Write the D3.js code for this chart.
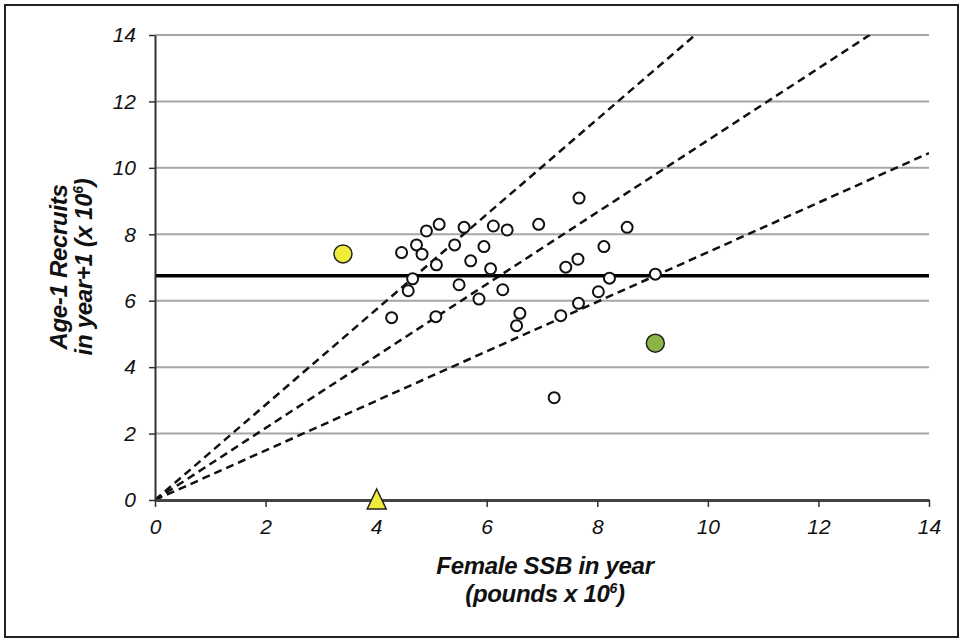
<!DOCTYPE html>
<html><head><meta charset="utf-8">
<script src="https://cdn.jsdelivr.net/npm/d3@7"></script>
<style>body{margin:0;background:#fff}svg{display:block}text{font-family:"Liberation Sans",Arial,sans-serif}</style>
</head><body>
<svg id="c" width="963" height="641"></svg>
<script>
const xTicks = [0,2,4,6,8,10,12,14];
const yTicks = [0,2,4,6,8,10,12,14];
const ssb = [7.67,5.14,4.91,5.59,6.12,6.37,6.94,8.54,4.73,4.46,4.83,5.42,5.95,8.12,5.09,5.71,7.65,7.43,6.07,4.66,8.22,9.05,4.58,5.50,6.29,5.86,8.02,7.66,4.28,5.08,6.60,6.54,7.34,7.22];
const recruits = [9.09,8.30,8.10,8.21,8.25,8.13,8.30,8.21,7.68,7.45,7.40,7.68,7.63,7.63,7.08,7.20,7.25,7.01,6.96,6.66,6.68,6.80,6.30,6.48,6.33,6.05,6.27,5.92,5.49,5.52,5.62,5.25,5.55,3.08];
const yellowPoint = [3.40, 7.41];
const greenPoint = [9.05, 4.72];
const trianglePoint = [4.01, 0];
const meanRecruits = 6.75;
const slopes = [1.433, 1.083, 0.746];

const svg = d3.select("#c");
const x = d3.scaleLinear().domain([0,14]).range([155,929]);
const y = d3.scaleLinear().domain([0,14]).range([500,35]);

svg.append("rect").attr("x",5).attr("y",5).attr("width",953).attr("height",632)
  .attr("fill","#fff").attr("stroke","#222").attr("stroke-width",2);

// grid
svg.append("g").selectAll("line").data(yTicks.filter(d=>d>0)).join("line")
  .attr("x1",x(0)).attr("x2",x(14)).attr("y1",d=>y(d)).attr("y2",d=>y(d))
  .attr("stroke","#a6a6a6").attr("stroke-width",2);

svg.append("clipPath").attr("id","pc").append("rect")
  .attr("x",x(0)).attr("y",y(14)).attr("width",x(14)-x(0)).attr("height",y(0)-y(14));

// dashed ratio lines
svg.append("g").attr("clip-path","url(#pc)").selectAll("line").data(slopes).join("line")
  .attr("x1",x(0)).attr("y1",y(0))
  .attr("x2",x(14)).attr("y2",d=>y(14*d))
  .attr("stroke","#111").attr("stroke-width",2.5).attr("stroke-dasharray","8,5");

// mean line
svg.append("line").attr("x1",x(0)).attr("x2",x(14)).attr("y1",y(meanRecruits)).attr("y2",y(meanRecruits))
  .attr("stroke","#000").attr("stroke-width",3.5);

// axes
const xAxis = svg.append("g").attr("transform",`translate(0,${y(0)})`)
  .call(d3.axisBottom(x).tickValues(xTicks).tickSize(7).tickSizeOuter(0).tickPadding(12));
const yAxis = svg.append("g").attr("transform",`translate(${x(0)},0)`)
  .call(d3.axisLeft(y).tickValues(yTicks).tickSize(6).tickSizeOuter(0).tickPadding(13));
[xAxis,yAxis].forEach(a=>{
  a.attr("font-size",21).attr("font-family",'"Liberation Sans",Arial,sans-serif');
  a.select(".domain").attr("stroke","#333").attr("stroke-width",2);
  a.selectAll(".tick line").attr("stroke","#333").attr("stroke-width",1.5);
  a.selectAll("text").attr("font-size",21).attr("font-style","italic").attr("fill","#111");
});
xAxis.select(".domain").attr("stroke","#444").attr("stroke-width",3);

// points
svg.append("g").selectAll("circle").data(ssb.map((s,i)=>[s,recruits[i]])).join("circle")
  .attr("cx",d=>x(d[0])).attr("cy",d=>y(d[1])).attr("r",5.5)
  .attr("fill","#fff").attr("stroke","#111").attr("stroke-width",2);

svg.append("circle").attr("cx",x(yellowPoint[0])).attr("cy",y(yellowPoint[1])).attr("r",9)
  .attr("fill","#f0ec3a").attr("stroke","#222").attr("stroke-width",1.5);
svg.append("circle").attr("cx",x(greenPoint[0])).attr("cy",y(greenPoint[1])).attr("r",9)
  .attr("fill","#8cb548").attr("stroke","#222").attr("stroke-width",1.5);

const tx = x(trianglePoint[0]), ty = y(trianglePoint[1]);
svg.append("path").attr("d",`M${tx},${ty-11}L${tx+9.5},${ty+9}L${tx-9.5},${ty+9}Z`)
  .attr("fill","#f0ec3a").attr("stroke","#222").attr("stroke-width",1.5);

// titles
function title(el, parts){
  el.attr("text-anchor","middle").attr("font-size",24).attr("font-weight","bold")
    .attr("font-style","italic").attr("fill","#111").attr("letter-spacing",-0.3);
  parts.forEach(p=>{
    const t = el.append("tspan").text(p.t);
    if (p.sup) t.attr("font-size",14).attr("dy",-9);
    if (p.after) t.attr("dy",9);
  });
}
title(svg.append("text").attr("x",545).attr("y",574), [{t:"Female SSB in year"}]);
title(svg.append("text").attr("x",545).attr("y",602), [{t:"(pounds x 10"},{t:"6",sup:true},{t:")",after:true}]);
title(svg.append("text").attr("transform","translate(67,267) rotate(-90)"), [{t:"Age-1 Recruits"}]);
title(svg.append("text").attr("transform","translate(92,267) rotate(-90)"), [{t:"in year+1 (x 10"},{t:"6",sup:true},{t:")",after:true}]);
</script>
</body></html>
